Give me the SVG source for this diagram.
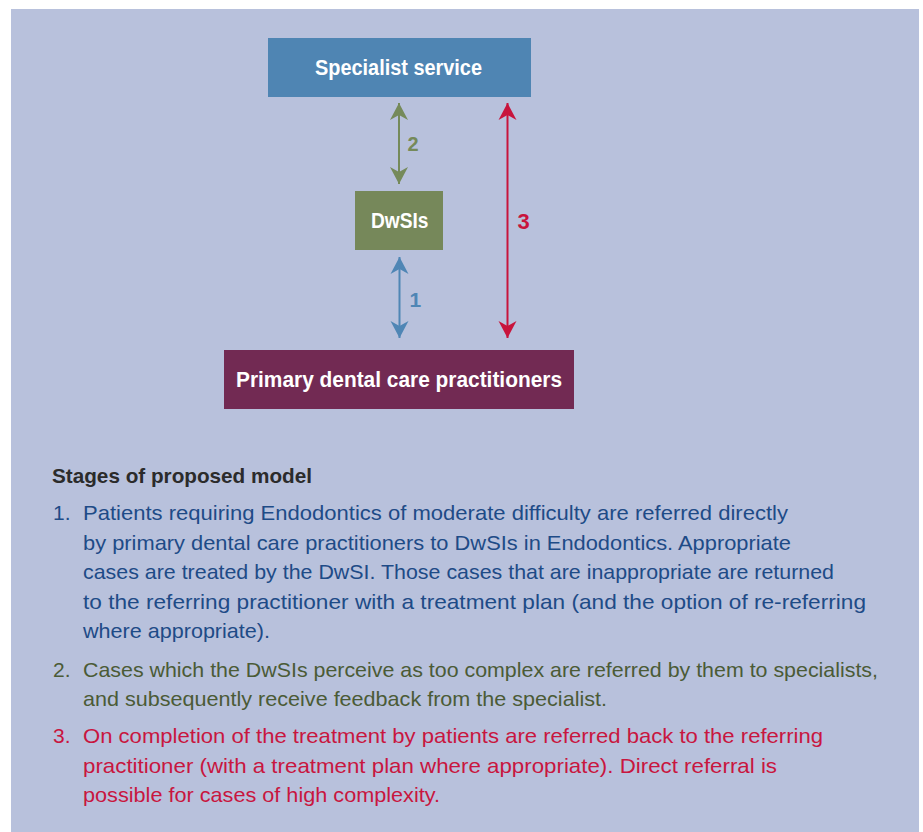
<svg xmlns="http://www.w3.org/2000/svg" width="923" height="832" viewBox="0 0 923 832">
<defs>
<style>
.node-label{font-family:"Liberation Sans",Arial,sans-serif;font-weight:bold;font-size:22px;fill:#ffffff;}
.num{font-family:"Liberation Sans",Arial,sans-serif;font-weight:bold;}
.body{font-family:"Liberation Sans",Arial,sans-serif;font-size:21px;}
.blue{fill:#1e4b87;}
.green{fill:#4b5b36;}
.red{fill:#c8163f;}
.head{font-family:"Liberation Sans",Arial,sans-serif;font-size:21px;font-weight:bold;fill:#2b2b2b;}
.conn{stroke-width:2;fill:none;}
</style>
<marker id="ah-green" markerUnits="userSpaceOnUse" viewBox="-18 -10 20 20" markerWidth="20" markerHeight="20" refX="0" refY="0" orient="auto-start-reverse"><path d="M0,0 L-17,-9 L-12,0 L-17,9 Z" fill="#758a5a"/></marker>
<marker id="ah-blue" markerUnits="userSpaceOnUse" viewBox="-18 -10 20 20" markerWidth="20" markerHeight="20" refX="0" refY="0" orient="auto-start-reverse"><path d="M0,0 L-17,-9 L-12,0 L-17,9 Z" fill="#4f86b5"/></marker>
<marker id="ah-red" markerUnits="userSpaceOnUse" viewBox="-18 -10 20 20" markerWidth="20" markerHeight="20" refX="0" refY="0" orient="auto-start-reverse"><path d="M0,0 L-17,-9 L-12,0 L-17,9 Z" fill="#c8143c"/></marker>
</defs>
<rect x="0" y="0" width="923" height="832" fill="#ffffff"/>
<rect x="11" y="9" width="908" height="823" fill="#b8c1dc"/>

<g id="connectors">
<line class="conn" x1="399" y1="103" x2="399" y2="184" stroke="#758a5a" marker-start="url(#ah-green)" marker-end="url(#ah-green)"/>
<line class="conn" x1="399.5" y1="257" x2="399.5" y2="338" stroke="#4f86b5" marker-start="url(#ah-blue)" marker-end="url(#ah-blue)"/>
<line class="conn" x1="507.5" y1="103" x2="507.5" y2="338" stroke="#c8143c" marker-start="url(#ah-red)" marker-end="url(#ah-red)"/>
<text class="num" x="407.5" y="151" font-size="20" fill="#758a5a">2</text>
<text class="num" x="409.5" y="306.5" font-size="21" fill="#4f86b5">1</text>
<text class="num" x="517.5" y="228.5" font-size="22" fill="#c8143c">3</text>
</g>

<g id="node-specialist">
<rect x="268" y="38" width="263" height="59" fill="#4f85b3"/>
<text class="node-label" x="315" y="74.5" textLength="167" lengthAdjust="spacingAndGlyphs">Specialist service</text>
</g>
<g id="node-dwsis">
<rect x="355" y="191" width="88" height="59" fill="#76885a"/>
<text class="node-label" x="371" y="228" textLength="57.5" lengthAdjust="spacingAndGlyphs">DwSIs</text>
</g>
<g id="node-primary">
<rect x="224" y="350" width="350" height="59" fill="#722a53"/>
<text class="node-label" x="236" y="387" textLength="326" lengthAdjust="spacingAndGlyphs">Primary dental care practitioners</text>
</g>

<g id="legend">
<text class="head" x="52" y="483" textLength="260" lengthAdjust="spacingAndGlyphs">Stages of proposed model</text>
<g class="body blue">
<text x="53" y="520">1.</text>
<text x="83" y="520" textLength="705" lengthAdjust="spacingAndGlyphs">Patients requiring Endodontics of moderate difficulty are referred directly</text>
<text x="83" y="549.5" textLength="708" lengthAdjust="spacingAndGlyphs">by primary dental care practitioners to DwSIs in Endodontics. Appropriate</text>
<text x="83" y="579" textLength="751" lengthAdjust="spacingAndGlyphs">cases are treated by the DwSI. Those cases that are inappropriate are returned</text>
<text x="83" y="608.5" textLength="783" lengthAdjust="spacingAndGlyphs">to the referring practitioner with a treatment plan (and the option of re-referring</text>
<text x="83" y="638" textLength="187" lengthAdjust="spacingAndGlyphs">where appropriate).</text>
</g>
<g class="body green">
<text x="53" y="677">2.</text>
<text x="83" y="677" textLength="795" lengthAdjust="spacingAndGlyphs">Cases which the DwSIs perceive as too complex are referred by them to specialists,</text>
<text x="83" y="705.5" textLength="524" lengthAdjust="spacingAndGlyphs">and subsequently receive feedback from the specialist.</text>
</g>
<g class="body red">
<text x="53" y="743">3.</text>
<text x="83" y="743" textLength="740" lengthAdjust="spacingAndGlyphs">On completion of the treatment by patients are referred back to the referring</text>
<text x="83" y="772.5" textLength="694" lengthAdjust="spacingAndGlyphs">practitioner (with a treatment plan where appropriate). Direct referral is</text>
<text x="83" y="801.5" textLength="357" lengthAdjust="spacingAndGlyphs">possible for cases of high complexity.</text>
</g>
</g>
</svg>
